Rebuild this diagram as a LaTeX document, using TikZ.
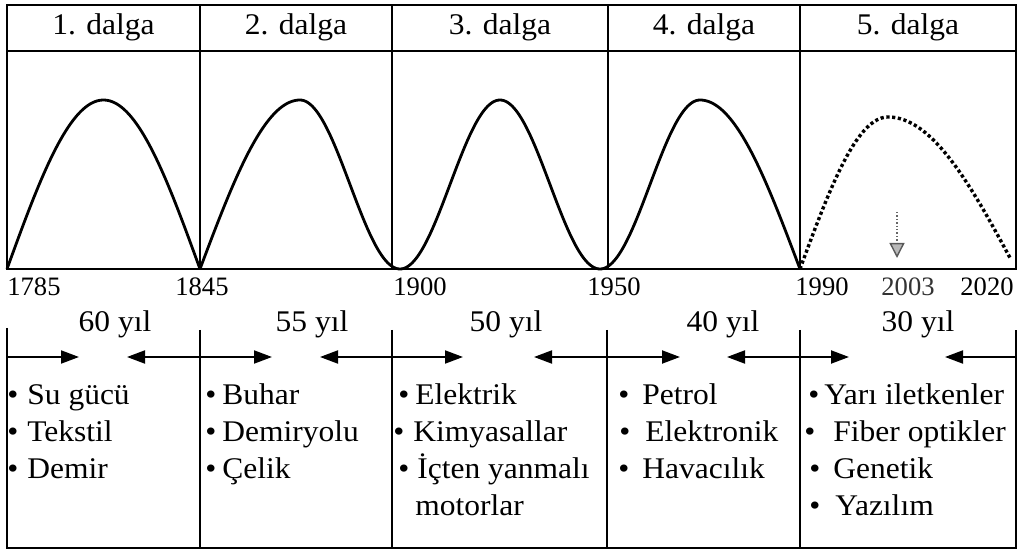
\documentclass[tikz,border=0pt]{standalone}
\usepackage{fontspec}
\setmainfont{Liberation Serif}[FakeStretch=1.05]
\newfontfamily\yearfont{Liberation Serif}
\usetikzlibrary{arrows.meta}
\begin{document}
\begin{tikzpicture}[x=0.5pt,y=-0.5pt,
  frame/.style={line width=1.1pt},
  wave/.style={line width=1.4pt, line join=round},
  dotwave/.style={line width=1.7pt, dash pattern=on 1.6pt off 1.3pt},
  hdr/.style={font=\fontsize{15}{18}\selectfont, anchor=base, inner sep=0pt},
  yr/.style={font=\yearfont\fontsize{13.3}{15}\selectfont, anchor=base, inner sep=0pt},
  dur/.style={font=\fontsize{15}{18}\selectfont, anchor=base, inner sep=0pt},
  itm/.style={font=\fontsize{15}{18}\selectfont, anchor=base west, inner sep=0pt},
  onearrow/.style={line width=1pt, -{Triangle[length=9pt,width=6.5pt]}},
  twoarrow/.style={line width=1pt, {Triangle[length=9pt,width=6.5pt]}-{Triangle[length=9pt,width=6.5pt]}},
  markarrow/.style={line width=0.7pt, black!60, densely dotted, -{Triangle[length=7.5pt,width=7.5pt,fill=gray!55,color=black!65]}}
]
\useasboundingbox (0,0) rectangle (1019,551);

% upper frame
\draw[frame] (7,5) rectangle (1016,269);
\draw[frame] (7,51) -- (1016,51);
\foreach \xx in {200,392,608,800} \draw[frame] (\xx,5) -- (\xx,269);

% lower frame
\draw[frame] (7,328) -- (7,548) -- (1016,548) -- (1016,330);
\foreach \xx in {200,392,607,800} \draw[frame] (\xx,330) -- (\xx,548);

% headers
\node[hdr] (h1) at (103.5,35) {1. dalga};
\node[hdr] (h2) at (296,35) {2. dalga};
\node[hdr] (h3) at (500,35) {3. dalga};
\node[hdr] (h4) at (704,35) {4. dalga};
\node[hdr] (h5) at (908,35) {5. dalga};

% waves
\draw[wave] plot[domain=7:200,samples=80] (\x,{269-169*sin((\x-7)/193*180)});
\draw[wave] plot[domain=200:300,samples=50] (\x,{269-169*sin((\x-200)/100*90)})
  -- plot[domain=300:400,samples=50] (\x,{269-169*(1+cos((\x-300)/100*180))/2});
\draw[wave] plot[domain=400:500,samples=50] (\x,{269-169*(1-cos((\x-400)/100*180))/2})
  -- plot[domain=500:600,samples=50] (\x,{269-169*(1+cos((\x-500)/100*180))/2});
\draw[wave] plot[domain=600:700,samples=50] (\x,{269-169*(1-cos((\x-600)/100*180))/2})
  -- plot[domain=700:800,samples=50] (\x,{269-169*cos((\x-700)/100*90)});
\draw[dotwave] plot[domain=800:888,samples=50] (\x,{269-152*sin((\x-800)/88*90)})
  -- plot[domain=888:1010,samples=60] (\x,{269-152*cos((\x-888)/128*90)});

% 2003 marker
\coordinate (mtop) at (897,212);
\coordinate (mtip) at (897,258);
\draw[markarrow] (mtop) -- (mtip);

% years
\node[yr, anchor=base west] (y1785) at (7,295) {1785};
\node[yr] (y1845) at (202,295) {1845};
\node[yr] (y1900) at (420,295) {1900};
\node[yr] (y1950) at (614,295) {1950};
\node[yr] (y1990) at (822,295) {1990};
\node[yr, black!80] (y2003) at (908,295) {2003};
\node[yr] (y2020) at (987,295) {2020};

% durations
\node[dur] (d60) at (115,331) {60 yıl};
\node[dur] (d55) at (312,331) {55 yıl};
\node[dur] (d50) at (506,331) {50 yıl};
\node[dur] (d40) at (723,331) {40 yıl};
\node[dur] (d30) at (918,331) {30 yıl};

% duration arrows
\coordinate (a1s) at (7,357);   \coordinate (a1e) at (79,357);
\coordinate (a2l) at (127,357); \coordinate (a2r) at (272,357);
\coordinate (a3l) at (320,357); \coordinate (a3r) at (463,357);
\coordinate (a4l) at (534,357); \coordinate (a4r) at (680,357);
\coordinate (a5l) at (727,357); \coordinate (a5r) at (849,357);
\coordinate (a6s) at (1016,357); \coordinate (a6e) at (945,357);
\draw[onearrow] (a1s) -- (a1e);
\draw[twoarrow] (a2l) -- (a2r);
\draw[twoarrow] (a3l) -- (a3r);
\draw[twoarrow] (a4l) -- (a4r);
\draw[twoarrow] (a5l) -- (a5r);
\draw[onearrow] (a6s) -- (a6e);

% items
\newcommand{\bul}[1]{\makebox[#1pt][l]{•}}
\node[itm] (i11) at (7,404) {\bul{10}Su gücü};
\node[itm] (i12) at (7,441) {\bul{10}Tekstil};
\node[itm] (i13) at (7,478) {\bul{10}Demir};

\node[itm] (i21) at (205,404) {\bul{8.5}Buhar};
\node[itm] (i22) at (205,441) {\bul{8.5}Demiryolu};
\node[itm] (i23) at (205,478) {\bul{8.5}Çelik};

\node[itm] (i31) at (398,404) {\bul{8.5}Elektrik};
\node[itm] (i32) at (393,441) {\bul{10}Kimyasallar};
\node[itm] (i33) at (398,478) {\bul{9.5}İçten yanmalı};
\node[itm] (i34) at (415,515) {motorlar};

\node[itm] (i41) at (618,404) {\bul{12}Petrol};
\node[itm] (i42) at (619,441) {\bul{13}Elektronik};
\node[itm] (i43) at (618,478) {\bul{12}Havacılık};

\node[itm] (i51) at (808,404) {\bul{8}Yarı iletkenler};
\node[itm] (i52) at (804,441) {\bul{14.5}Fiber optikler};
\node[itm] (i53) at (809,478) {\bul{12}Genetik};
\node[itm] (i54) at (809,515) {\bul{13}Yazılım};
\end{tikzpicture}
\end{document}
